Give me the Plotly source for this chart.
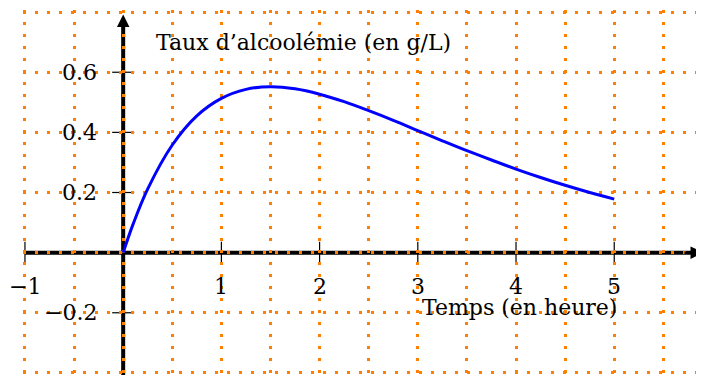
import plotly.graph_objects as go

# time in hours and blood alcohol level in g/L
temps = [0, 0.1, 0.25, 0.5, 0.75, 1, 1.25, 1.5, 1.75, 2, 2.25, 2.5, 2.75, 3,
         3.25, 3.5, 3.75, 4, 4.25, 4.5, 4.75, 5]
taux = [0, 0.094, 0.212, 0.358, 0.455, 0.513, 0.543, 0.552, 0.545, 0.527, 0.502,
        0.472, 0.440, 0.406, 0.372, 0.339, 0.308, 0.278, 0.250, 0.224, 0.200, 0.178]

x_ticks = [-1, 1, 2, 3, 4, 5]
x_tick_labels = ['\u22121', '1', '2', '3', '4', '5']
y_ticks = [-0.2, 0.2, 0.4, 0.6]
y_tick_labels = ['\u22120.2', '0.2', '0.4', '0.6']

x_range = [-1.02, 5.914]
y_range = [-0.407, 0.807]

orange = '#FF8000'
font = 'DejaVu Serif'
fsize = 22


def make_fig():
    fig = go.Figure()
    fig.add_trace(go.Scatter(x=temps, y=taux, mode='lines', line_shape='spline',
                             line=dict(color='#0000FF', width=3), showlegend=False,
                             hoverinfo='skip'))

    # axes drawn under the dotted grid
    fig.add_shape(type='line', x0=-1, x1=x_range[1] - 0.08, y0=0, y1=0,
                  line=dict(color='black', width=4), layer='below')
    fig.add_shape(type='line', x0=0, x1=0, y0=y_range[0], y1=0.76,
                  line=dict(color='black', width=4), layer='below')

    # arrow heads
    fig.add_annotation(x=x_range[1] - 0.01, y=0, ax=-20, ay=0, text='', showarrow=True,
                       arrowhead=2, arrowsize=1, arrowwidth=2.5, arrowcolor='black')
    fig.add_annotation(x=0, y=0.792, ax=0, ay=20, text='', showarrow=True,
                       arrowhead=2, arrowsize=1, arrowwidth=2.5, arrowcolor='black')

    for t, lab in zip(x_ticks, x_tick_labels):
        fig.add_shape(type='line', x0=t, x1=t, yref='y', ysizemode='pixel', yanchor=0,
                      y0=-11, y1=11, line=dict(color='black', width=1.2), layer='below')
        fig.add_annotation(x=t, y=0, text=lab, showarrow=False, yshift=-34,
                           font=dict(family=font, size=fsize, color='black'))

    for t, lab in zip(y_ticks, y_tick_labels):
        fig.add_shape(type='line', y0=t, y1=t, xref='x', xsizemode='pixel', xanchor=0,
                      x0=-11, x1=11, line=dict(color='black', width=1.2), layer='below')
        fig.add_annotation(x=0, y=t, text=lab, showarrow=False, xanchor='right',
                           xshift=-24, font=dict(family=font, size=fsize, color='black'))

    fig.add_annotation(x=0.31, y=0.70, text='Taux d\u2019alcoolémie (en g/L)',
                       showarrow=False, xanchor='left',
                       font=dict(family=font, size=fsize, color='black'))
    fig.add_annotation(x=3.02, y=-0.183, text='Temps (en heure)',
                       showarrow=False, xanchor='left',
                       font=dict(family=font, size=fsize, color='black'))

    grid = dict(showgrid=True, gridcolor=orange, gridwidth=3, griddash='3px,9px')
    fig.update_xaxes(range=x_range, tick0=0, dtick=1, zeroline=False, showline=False,
                     showticklabels=False, ticks='', minor=dict(dtick=0.5, **grid), **grid)
    fig.update_yaxes(range=y_range, tick0=0, dtick=0.2, zeroline=False, showline=False,
                     showticklabels=False, ticks='', **grid)

    # the page adds an 8px body margin, so the figure is 8px smaller each way
    fig.update_layout(width=696, height=367, margin=dict(l=15, r=0, t=2, b=0),
                      plot_bgcolor='white', paper_bgcolor='white',
                      font=dict(family=font, size=fsize))
    return fig


def main():
    fig = make_fig()
    fig.write_html('out.html')


if __name__ == '__main__':
    main()
